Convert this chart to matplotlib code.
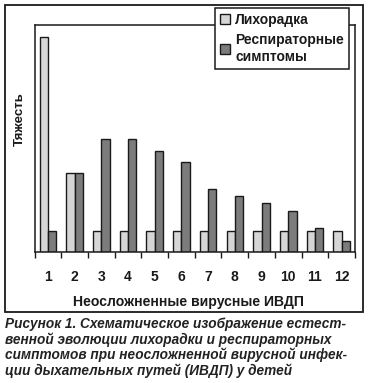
import matplotlib.pyplot as plt
from matplotlib.patches import Rectangle
import numpy

# Data
days = ['1', '2', '3', '4', '5', '6', '7', '8', '9', '10', '11', '12']
fever = [10.0, 3.67, 1.0, 1.0, 1.0, 1.0, 1.0, 1.0, 1.0, 1.0, 1.0, 1.0]
respiratory = [1.0, 3.67, 5.28, 5.28, 4.7, 4.19, 2.92, 2.61, 2.28, 1.9, 1.14, 0.5]

FEVER_LABEL = 'Лихорадка'
RESP_LABEL = 'Респираторные\nсимптомы'
X_LABEL = 'Неосложненные вирусные ИВДП'
Y_LABEL = 'Тяжесть'
CAPTION = ('Рисунок 1. Схематическое изображение естест-\n'
           'венной эволюции лихорадки и респираторных\n'
           'симптомов при неосложненной вирусной инфек-\n'
           'ции дыхательных путей (ИВДП) у детей')

W, H = 368, 383
plt.rcParams['font.family'] = ['Liberation Sans', 'DejaVu Sans']

fig = plt.figure(figsize=(W / 100, H / 100), dpi=100)

# outer frame around the chart
fig.patches.append(Rectangle((4.5 / W, 1 - 312 / H), (363 - 4.5) / W, (312 - 5) / H,
                             transform=fig.transFigure, fill=False,
                             edgecolor='#1a1a1a', linewidth=1.3))

ax = fig.add_axes([34.5 / W, 1 - 252 / H, (355 - 34.5) / W, (252 - 25) / H])

x = numpy.arange(len(days))
barWidth = 0.31
ax.bar(x - barWidth / 2, fever, barWidth, color='#d6d6d6', edgecolor='#1a1a1a',
       linewidth=1.0, label=FEVER_LABEL)
ax.bar(x + barWidth / 2, respiratory, barWidth, color='#7c7c7c', edgecolor='#1a1a1a',
       linewidth=1.0, label=RESP_LABEL)

ax.set_xlim(-0.5, len(days) - 0.5)
ax.set_ylim(0, 10.58)
ax.set_yticks([])
ax.set_xticks(numpy.arange(len(days) + 1) - 0.5)
ax.set_xticklabels([])
ax.set_xticks(x, minor=True)
ax.set_xticklabels(days, minor=True, fontsize=10, fontweight='bold', color='#1a1a1a')
ax.tick_params(axis='x', which='major', length=4.5, width=1.0, direction='out', color='#1a1a1a')
ax.tick_params(axis='x', which='minor', length=0, pad=13)
for spine in ax.spines.values():
    spine.set_linewidth(1.1)
    spine.set_color('#1a1a1a')

fig.text(20 / W, 1 - 119 / H, Y_LABEL, rotation=90, ha='center', va='center',
         fontsize=9.5, fontweight='bold', color='#1a1a1a')
fig.text(188 / W, 1 - 302 / H, X_LABEL, ha='center', va='center',
         fontsize=10.1, fontweight='bold', color='#1a1a1a')

leg = ax.legend(loc='upper left', bbox_to_anchor=(215 / W, 1 - 8 / H),
                bbox_transform=fig.transFigure, fancybox=False, framealpha=1,
                edgecolor='#1a1a1a', prop={'weight': 'bold', 'size': 10},
                handlelength=0.75, handleheight=0.75, handletextpad=0.35,
                borderpad=0.35, labelspacing=0.45, borderaxespad=0)
leg.get_frame().set_linewidth(1.1)
for t in leg.get_texts():
    t.set_color('#1a1a1a')
    t.set_linespacing(1.25)

fig.text(5 / W, 1 - 317 / H, CAPTION, ha='left', va='top', fontsize=9.8,
         fontweight='bold', fontstyle='italic', color='#222222', linespacing=1.1)

fig.savefig('out.png', dpi=100)
